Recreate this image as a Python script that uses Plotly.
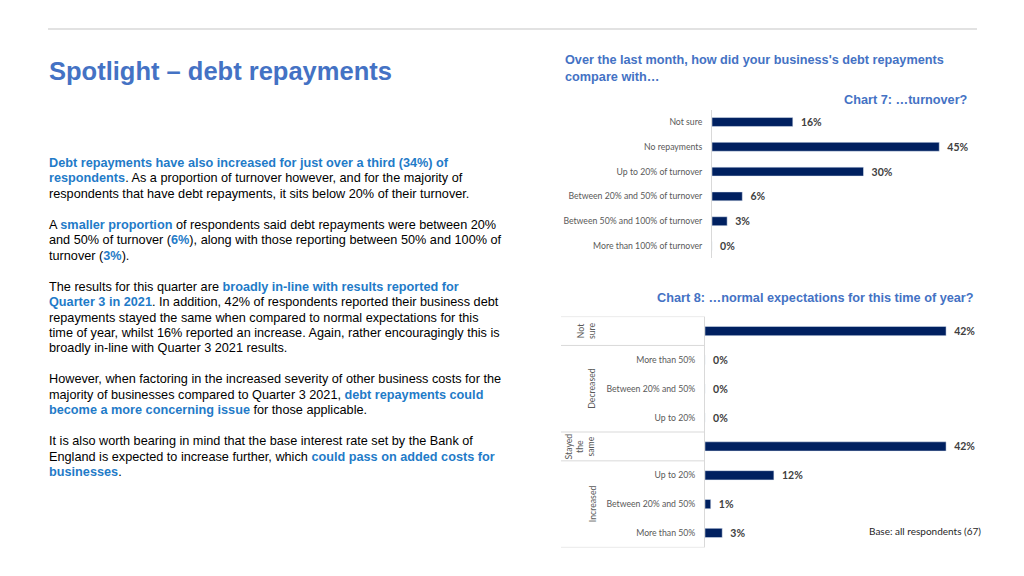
import plotly.graph_objects as go

# ---------------- data ----------------
c7_categories = ["Not sure", "No repayments", "Up to 20% of turnover",
                 "Between 20% and 50% of turnover", "Between 50% and 100% of turnover",
                 "More than 100% of turnover"]
c7_values = [16, 45, 30, 6, 3, 0]

c8_groups = ["Not sure", "Decreased", "Decreased", "Decreased", "Stayed the same",
             "Increased", "Increased", "Increased"]
c8_sublabels = ["", "More than 50%", "Between 20% and 50%", "Up to 20%", "",
                "Up to 20%", "Between 20% and 50%", "More than 50%"]
c8_values = [42, 0, 0, 0, 42, 12, 1, 3]

# page body has an 8px margin, so the figure is placed at (8, 8)
OFF = 8
W, H = 1024 - OFF, 576 - OFF
NAVY = "#002060"
BLUE_T = "#4472C4"
BLUE_H = "#1F7BC8"
GREY_L = "#595959"
CAT_FONT = "Lato"
BODY_FONT = "Liberation Sans, Arial"
PAD = "\u00a0\u00a0"


def px(x):
    return (x - OFF) / W


def py(y):
    return 1 - (y - OFF) / H


fig = go.Figure()

val_font = dict(family=CAT_FONT, size=10.5, color="#404040", weight="bold")

# Chart 7
fig.add_trace(go.Bar(
    x=c7_values, y=list(range(len(c7_categories))), orientation="h",
    marker=dict(color=NAVY), width=0.36,
    text=[f"{PAD}{v}%" for v in c7_values], textposition="outside", constraintext="none",
    textfont=val_font,
    cliponaxis=False, xaxis="x", yaxis="y", hoverinfo="skip", showlegend=False,
))

# Chart 8
fig.add_trace(go.Bar(
    x=c8_values, y=list(range(len(c8_values))), orientation="h",
    marker=dict(color=NAVY), width=0.32,
    text=[f"{PAD}{v}%" for v in c8_values], textposition="outside", constraintext="none",
    textfont=val_font,
    cliponaxis=False, xaxis="x2", yaxis="y2", hoverinfo="skip", showlegend=False,
))

c7_top, c7_bot = 109.6, 258.4
c7_x0, c7_ppu = 712, 5.05
c7_xmax = 50
c8_top, c8_bot = 316.6, 547.4
c8_x0, c8_ppu = 705, 5.74
c8_xmax = 45

fig.update_layout(
    width=W, height=H,
    margin=dict(l=0, r=0, t=0, b=0),
    paper_bgcolor="white", plot_bgcolor="white",
    font=dict(family=BODY_FONT, color="#000000"),
    xaxis=dict(domain=[px(c7_x0), px(c7_x0 + c7_xmax * c7_ppu)], range=[0, c7_xmax],
               visible=False, fixedrange=True),
    yaxis=dict(domain=[py(c7_bot), py(c7_top)], range=[len(c7_categories) - 0.5, -0.5],
               tickvals=list(range(len(c7_categories))), ticktext=c7_categories,
               ticks="outside", ticklen=7, tickcolor="rgba(0,0,0,0)",
               tickfont=dict(family=CAT_FONT, size=8.7, color=GREY_L),
               showline=True, linecolor="#D9D9D9", linewidth=1,
               showgrid=False, zeroline=False, anchor="x", fixedrange=True),
    xaxis2=dict(domain=[px(c8_x0), px(c8_x0 + c8_xmax * c8_ppu)], range=[0, c8_xmax],
                visible=False, anchor="y2", fixedrange=True),
    yaxis2=dict(domain=[py(c8_bot), py(c8_top)], range=[len(c8_values) - 0.5, -0.5],
                tickvals=list(range(len(c8_values))), ticktext=c8_sublabels,
                ticks="outside", ticklen=7, tickcolor="rgba(0,0,0,0)",
                tickfont=dict(family=CAT_FONT, size=8.7, color=GREY_L),
                showline=True, linecolor="#D9D9D9", linewidth=1,
                showgrid=False, zeroline=False, anchor="x2", fixedrange=True),
)

shapes = []
shapes.append(dict(type="line", xref="paper", yref="paper", x0=px(48), x1=px(977),
                   y0=py(29), y1=py(29), line=dict(color="#D9D9D9", width=1.5)))
bounds = [-0.5]
for i in range(1, len(c8_groups)):
    if c8_groups[i] != c8_groups[i - 1]:
        bounds.append(i - 0.5)
bounds.append(len(c8_groups) - 0.5)
for b in bounds:
    shapes.append(dict(type="line", xref="paper", yref="y2", x0=px(561), x1=px(c8_x0),
                       y0=b, y1=b, line=dict(color="#D9D9D9", width=1)))
fig.update_layout(shapes=shapes)

ann = []
ann.append(dict(text="<b>Spotlight – debt repayments</b>", x=px(47), y=py(71),
                xref="paper", yref="paper", xanchor="left", yanchor="middle",
                showarrow=False, font=dict(family=BODY_FONT, size=25.5, color=BLUE_T)))


def hl(s):
    return f"<span style='color:{BLUE_H}'><b>{s}</b></span>"


body_lines = [
    hl("Debt repayments have also increased for just over a third (34%) of"),
    hl("respondents") + ". As a proportion of turnover however, and for the majority of",
    "respondents that have debt repayments, it sits below 20% of their turnover.",
    "",
    "A " + hl("smaller proportion") + " of respondents said debt repayments were between 20%",
    "and 50% of turnover (" + hl("6%") + "), along with those reporting between 50% and 100% of",
    "turnover (" + hl("3%") + ").",
    "",
    "The results for this quarter are " + hl("broadly in-line with results reported for"),
    hl("Quarter 3 in 2021") + ". In addition, 42% of respondents reported their business debt",
    "repayments stayed the same when compared to normal expectations for this",
    "time of year, whilst 16% reported an increase. Again, rather encouragingly this is",
    "broadly in-line with Quarter 3 2021 results.",
    "",
    "However, when factoring in the increased severity of other business costs for the",
    "majority of businesses compared to Quarter 3 2021, " + hl("debt repayments could"),
    hl("become a more concerning issue") + " for those applicable.",
    "",
    "It is also worth bearing in mind that the base interest rate set by the Bank of",
    "England is expected to increase further, which " + hl("could pass on added costs for"),
    hl("businesses") + ".",
]
for i, line in enumerate(body_lines):
    if not line:
        continue
    ann.append(dict(text=line, x=px(47), y=py(163 + i * 15.45), xref="paper", yref="paper",
                    xanchor="left", yanchor="middle", align="left", showarrow=False,
                    font=dict(family=BODY_FONT, size=12.7, color="#000000")))

hdr_font = dict(family=BODY_FONT, size=12.7, color=BLUE_T)
ann.append(dict(text="<b>Over the last month, how did your business's debt repayments</b>",
                x=px(563), y=py(60), xref="paper", yref="paper", xanchor="left", yanchor="middle",
                showarrow=False, font=hdr_font))
ann.append(dict(text="<b>compare with…</b>",
                x=px(563), y=py(77), xref="paper", yref="paper", xanchor="left", yanchor="middle",
                showarrow=False, font=hdr_font))
ann.append(dict(text="<b>Chart 7: …turnover?</b>", x=px(970), y=py(100), xref="paper", yref="paper",
                xanchor="right", yanchor="middle", showarrow=False, font=hdr_font))
ann.append(dict(text="<b>Chart 8: …normal expectations for this time of year?</b>", x=px(976), y=py(298),
                xref="paper", yref="paper", xanchor="right", yanchor="middle", showarrow=False,
                font=hdr_font))

group_x = {"Not sure": 586, "Decreased": 592, "Stayed the same": 580, "Increased": 592}
group_txt = {"Not sure": "Not<br>sure", "Decreased": "Decreased",
             "Stayed the same": "Stayed<br>the<br>same", "Increased": "Increased"}
seen = []
for g in c8_groups:
    if g in seen:
        continue
    seen.append(g)
    idx = [i for i, gg in enumerate(c8_groups) if gg == g]
    ann.append(dict(text=group_txt[g], x=px(group_x[g]), y=sum(idx) / len(idx),
                    xref="paper", yref="y2", xanchor="center", yanchor="middle",
                    textangle=-90, showarrow=False,
                    font=dict(family=CAT_FONT, size=8.7, color=GREY_L)))

ann.append(dict(text="Base: all respondents (67)", x=px(983), y=py(531), xref="paper", yref="paper",
                xanchor="right", yanchor="middle", showarrow=False,
                font=dict(family=CAT_FONT, size=10, color="#262626")))

fig.update_layout(annotations=ann)

fig.write_html("out.html")
